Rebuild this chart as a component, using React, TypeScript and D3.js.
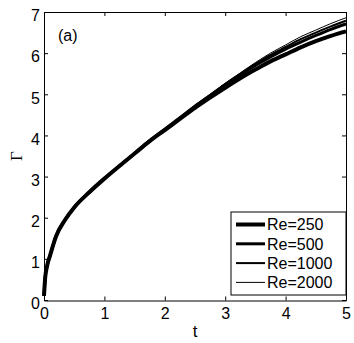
import React, { useEffect, useRef } from "react";
import * as d3 from "d3";

// time samples (t)
const times = [0, 0.02, 0.05, 0.1, 0.2, 0.35, 0.5, 0.75, 1, 1.25, 1.5, 1.75, 2, 2.25, 2.5, 2.75, 3, 3.25, 3.5, 3.75, 4, 4.25, 4.5, 4.75, 5];

// Gamma values for each Reynolds number
const re250 = [0.1, 0.55, 0.82, 1.08, 1.55, 1.95, 2.25, 2.62, 2.95, 3.26, 3.56, 3.86, 4.13, 4.4, 4.67, 4.92, 5.16, 5.39, 5.6, 5.8, 5.97, 6.14, 6.29, 6.42, 6.53];
const re500 = [0.1, 0.55, 0.82, 1.08, 1.55, 1.95, 2.25, 2.62, 2.95, 3.26, 3.56, 3.87, 4.15, 4.43, 4.71, 4.97, 5.23, 5.47, 5.7, 5.91, 6.1, 6.27, 6.43, 6.58, 6.71];
const re1000 = [0.1, 0.55, 0.82, 1.08, 1.55, 1.95, 2.25, 2.62, 2.95, 3.26, 3.56, 3.87, 4.15, 4.43, 4.72, 4.98, 5.25, 5.5, 5.74, 5.96, 6.15, 6.34, 6.5, 6.65, 6.79];
const re2000 = [0.1, 0.55, 0.82, 1.08, 1.55, 1.95, 2.25, 2.62, 2.95, 3.26, 3.56, 3.87, 4.15, 4.43, 4.72, 4.99, 5.27, 5.52, 5.77, 6.0, 6.2, 6.4, 6.56, 6.72, 6.86];

const seriesNames = ["Re=250", "Re=500", "Re=1000", "Re=2000"];
const seriesValues = [re250, re500, re1000, re2000];
const lineWidths = [4, 3, 2, 1];

const xTicks = [0, 1, 2, 3, 4, 5];
const yTicks = [0, 1, 2, 3, 4, 5, 6, 7];

const W = 354;
const H = 343;
const sans = "'Liberation Sans', Arial, Helvetica, sans-serif";

export default function App() {
  const ref = useRef<SVGSVGElement | null>(null);

  useEffect(() => {
    const svg = d3.select(ref.current);
    svg.selectAll("*").remove();

    const left = 44, right = 346, top = 12, bottom = 300;

    const x = d3.scaleLinear().domain([0, 5]).range([left, right]);
    const y = d3.scaleLinear().domain([0, 7]).range([bottom, top]);

    // curves
    const line = d3
      .line<number>()
      .x((_, i) => x(times[i]))
      .y((d) => y(d))
      .curve(d3.curveMonotoneX);

    svg
      .append("g")
      .selectAll("path")
      .data(seriesValues)
      .join("path")
      .attr("d", (d) => line(d))
      .attr("fill", "none")
      .attr("stroke", "#000")
      .attr("stroke-width", (_, i) => lineWidths[i]);

    // axes
    const bottomAxis = svg
      .append("g")
      .attr("transform", `translate(0,${bottom + 0.5})`)
      .call(d3.axisBottom(x).tickValues(xTicks).tickSize(-4).tickSizeOuter(0).tickPadding(7.5).tickFormat(d3.format("d")));
    bottomAxis.select(".domain").attr("stroke", "#000").attr("stroke-width", 1.2);
    bottomAxis.selectAll("text").style("font-family", sans).style("font-size", "16px").attr("fill", "#000");

    const leftAxis = svg
      .append("g")
      .attr("transform", `translate(${left},0)`)
      .call(d3.axisLeft(y).tickValues(yTicks).tickSize(-4).tickSizeOuter(0).tickPadding(4).tickFormat(d3.format("d")));
    leftAxis.selectAll("text").style("font-family", sans).style("font-size", "16px").attr("fill", "#000").attr("dy", "0.55em");

    svg
      .append("g")
      .attr("transform", `translate(0,${top})`)
      .call(d3.axisTop(x).tickValues(xTicks).tickSize(-4).tickSizeOuter(0).tickFormat(() => ""));

    svg
      .append("g")
      .attr("transform", `translate(${right},0)`)
      .call(d3.axisRight(y).tickValues(yTicks).tickSize(-4).tickSizeOuter(0).tickFormat(() => ""));

    // labels
    svg
      .append("text")
      .attr("x", x(2.5))
      .attr("y", 337)
      .attr("text-anchor", "middle")
      .style("font-family", sans)
      .style("font-size", "17px")
      .text("t");

    svg
      .append("text")
      .attr("transform", `translate(21.5,${(top + bottom) / 2}) rotate(-90)`)
      .attr("text-anchor", "middle")
      .style("font-family", "'Liberation Serif', 'Times New Roman', serif")
      .style("font-size", "17px")
      .text("Γ");

    svg
      .append("text")
      .attr("x", 58)
      .attr("y", 41)
      .style("font-family", sans)
      .style("font-size", "16px")
      .text("(a)");

    // legend
    const lg = svg.append("g");
    lg.append("rect")
      .attr("x", 231)
      .attr("y", 212)
      .attr("width", 115)
      .attr("height", 83)
      .attr("fill", "#fff")
      .attr("stroke", "#000")
      .attr("stroke-width", 1);

    const items = lg
      .selectAll(".legend-item")
      .data(seriesNames)
      .join("g")
      .attr("class", "legend-item")
      .attr("transform", (_, i) => `translate(0,${224.5 + i * 19.3})`);

    items
      .append("line")
      .attr("x1", 236)
      .attr("x2", 265)
      .attr("stroke", "#000")
      .attr("stroke-width", (_, i) => lineWidths[i]);

    items
      .append("text")
      .attr("x", 267)
      .attr("y", 5.8)
      .style("font-family", sans)
      .style("font-size", "16px")
      .text((d) => d);
  }, []);

  return <svg ref={ref} width={W} height={H} style={{ position: "absolute", left: 0, top: 0, background: "#fff" }} />;
}
